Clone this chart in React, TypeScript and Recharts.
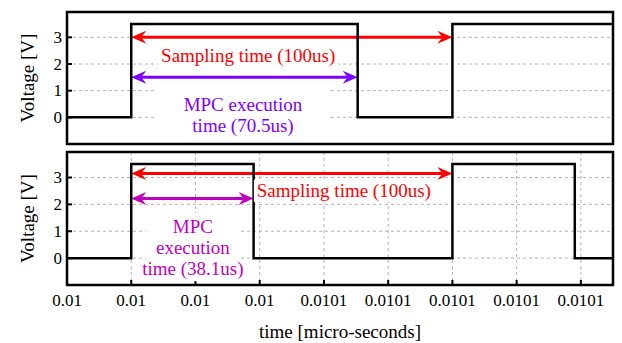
import {
  CartesianGrid,
  ComposedChart,
  Line,
  ReferenceArea,
  ReferenceDot,
  ReferenceLine,
  XAxis,
  YAxis,
} from 'recharts'

// time axis in microseconds, labels as printed by the scope export (seconds)
const timeTicks = [0, 20, 40, 60, 80, 100, 120, 140, 160]
const timeTickLabels = ['0.01', '0.01', '0.01', '0.01', '0.0101', '0.0101', '0.0101', '0.0101', '0.0101']
const voltTicks = [0, 1, 2, 3]

const samplingStart = 20
const samplingPeriod = 100
const execTimeFirst = 70.5
const execTimeSecond = 38.1

// upper trace: MPC with 70.5us execution
const topTime = [0, 20, 90.5, 120, 170]
const topVolt = [0, 3.5, 0, 3.5, 3.5]

// lower trace: MPC with 38.1us execution
const bottomTime = [0, 20, 58.1, 120, 158.1, 170]
const bottomVolt = [0, 3.5, 0, 3.5, 0, 0]

const T_MAX = 170
const V_MIN = -1
const V_MAX = 3.95

const FONT = 'Liberation Serif'
const RED = '#ff0000'
const VIOLET = '#7f00ff'
const MAGENTA = '#c000c0'

const toRows = (t: number[], v: number[]) => t.map((time, i) => ({ t: time, v: v[i] }))

function arrowShape(color: string) {
  return (props: any) => {
    const { x1, y1, x2, y2 } = props
    const len = 15
    const half = 6.5
    const notch = 10
    const dir = x2 > x1 ? 1 : -1
    const head = (tx: number, ty: number, d: number) =>
      `M${tx},${ty} L${tx + d * len},${ty - half} L${tx + d * notch},${ty} L${tx + d * len},${ty + half} Z`
    return (
      <g>
        <line x1={x1 + dir * notch} y1={y1} x2={x2 - dir * notch} y2={y2} stroke={color} strokeWidth={3} />
        <path d={head(x1, y1, dir)} fill={color} />
        <path d={head(x2, y2, -dir)} fill={color} />
      </g>
    )
  }
}

interface Note {
  lines: string[]
  color: string
  w: number
  h: number
  boxDy?: number
}

function noteShape({ lines, color, w, h, boxDy = 0 }: Note) {
  return (props: any) => {
    const { cx, cy } = props
    const lineH = 21
    const first = cy - ((lines.length - 1) * lineH) / 2
    return (
      <g>
        <rect x={cx - w / 2} y={cy - h / 2 + boxDy} width={w} height={h} fill="#fff" />
        {lines.map((s, i) => (
          <text
            key={i}
            x={cx}
            y={first + i * lineH}
            textAnchor="middle"
            dominantBaseline="central"
            fill={color}
            style={{ fontSize: 19, fontFamily: FONT }}
          >
            {s}
          </text>
        ))}
      </g>
    )
  }
}

const tickLineStyle = { stroke: '#000', strokeWidth: 2 }

// tick y arrives at the inner end of the (inward) tick mark
function TimeTick(props: any) {
  const { x, y, payload, index } = props
  return (
    <text x={x} y={y + 26} textAnchor="middle" fill="#000" style={{ fontSize: 17, fontFamily: FONT }}>
      {timeTickLabels[index] ?? payload.value}
    </text>
  )
}

function VoltTick(props: any) {
  const { x, y, payload } = props
  return (
    <text x={x} y={y} textAnchor="end" dominantBaseline="central" fill="#000" style={{ fontSize: 17, fontFamily: FONT }}>
      {payload.value}
    </text>
  )
}

function voltageLabel(props: any) {
  const vb = props.viewBox
  const cy = vb.y + vb.height / 2
  return (
    <text
      x={27}
      y={cy}
      transform={`rotate(-90 27 ${cy})`}
      textAnchor="middle"
      dominantBaseline="central"
      fill="#000"
      style={{ fontSize: 19, fontFamily: FONT }}
    >
      Voltage [V]
    </text>
  )
}

function timeLabel(props: any) {
  const vb = props.viewBox
  return (
    <text
      x={vb.x + vb.width / 2}
      y={vb.y + vb.height - 5}
      textAnchor="middle"
      fill="#000"
      style={{ fontSize: 19, fontFamily: FONT }}
    >
      time [micro-seconds]
    </text>
  )
}

interface PanelProps {
  rows: { t: number; v: number }[]
  height: number
  margin: { top: number; right: number; bottom: number; left: number }
  showTime: boolean
  children?: React.ReactNode
}

function Panel({ rows, height, margin, showTime, children }: PanelProps) {
  return (
    <ComposedChart width={622} height={height} data={rows} margin={margin}>
      <CartesianGrid
        xAxisId="b"
        yAxisId="l"
        stroke="#b4b4b4"
        strokeDasharray="3 3"
        strokeWidth={1}
      />
      <XAxis
        xAxisId="b"
        dataKey="t"
        type="number"
        domain={[0, T_MAX]}
        ticks={timeTicks}
        allowDataOverflow
        axisLine={false}
        tickLine={tickLineStyle}
        tickSize={-5}
        tickMargin={0}
        height={showTime ? 58 : 0}
        tick={showTime ? <TimeTick /> : false}
        interval={0}
        label={showTime ? timeLabel : undefined}
      />
      <XAxis
        xAxisId="t"
        orientation="top"
        dataKey="t"
        type="number"
        domain={[0, T_MAX]}
        ticks={timeTicks}
        axisLine={false}
        tickLine={tickLineStyle}
        tickSize={-5}
        height={0}
        tick={false}
      />
      <YAxis
        yAxisId="l"
        type="number"
        domain={[V_MIN, V_MAX]}
        ticks={voltTicks}
        allowDataOverflow
        width={67}
        axisLine={false}
        tickLine={tickLineStyle}
        tickSize={-5}
        tickMargin={10}
        tick={<VoltTick />}
        interval={0}
        label={voltageLabel}
      />
      <YAxis
        yAxisId="r"
        orientation="right"
        type="number"
        domain={[V_MIN, V_MAX]}
        ticks={voltTicks}
        width={0}
        axisLine={false}
        tickLine={tickLineStyle}
        tickSize={-5}
        tick={false}
      />
      {children}
      <Line
        xAxisId="b"
        yAxisId="l"
        dataKey="v"
        type="stepAfter"
        stroke="#000"
        strokeWidth={2.5}
        dot={false}
        activeDot={false}
        isAnimationActive={false}
      />
      <ReferenceArea
        xAxisId="b"
        yAxisId="l"
        x1={0}
        x2={T_MAX}
        y1={V_MIN}
        y2={V_MAX}
        fill="none"
        fillOpacity={0}
        stroke="#000"
        strokeWidth={2.5}
      />
    </ComposedChart>
  )
}

export default function App() {
  const sampleEnd = samplingStart + samplingPeriod
  return (
    <div style={{ position: 'absolute', left: 0, top: 0, width: 622, height: 343, background: '#fff' }}>
      <Panel rows={toRows(topTime, topVolt)} height={147} margin={{ top: 12, right: 9, bottom: 3, left: 0 }} showTime={false}>
        <ReferenceDot
          xAxisId="b"
          yAxisId="l"
          x={56.4}
          y={2.33}
          shape={noteShape({ lines: ['Sampling time (100us)'], color: RED, w: 180, h: 24 })}
        />
        <ReferenceDot
          xAxisId="b"
          yAxisId="l"
          x={54.8}
          y={0.08}
          shape={noteShape({ lines: ['MPC execution', 'time (70.5us)'], color: VIOLET, w: 176, h: 50, boxDy: -4 })}
        />
        <ReferenceLine
          xAxisId="b"
          yAxisId="l"
          segment={[{ x: samplingStart, y: 3 }, { x: sampleEnd, y: 3 }]}
          shape={arrowShape(RED)}
        />
        <ReferenceLine
          xAxisId="b"
          yAxisId="l"
          segment={[{ x: samplingStart, y: 1.5 }, { x: samplingStart + execTimeFirst, y: 1.5 }]}
          shape={arrowShape(VIOLET)}
        />
      </Panel>
      <Panel rows={toRows(bottomTime, bottomVolt)} height={196} margin={{ top: 5, right: 9, bottom: 0, left: 0 }} showTime>
        <ReferenceDot
          xAxisId="b"
          yAxisId="l"
          x={86.2}
          y={2.51}
          shape={noteShape({ lines: ['Sampling time (100us)'], color: RED, w: 180, h: 22 })}
        />
        <ReferenceDot
          xAxisId="b"
          yAxisId="l"
          x={39.2}
          y={0.41}
          shape={noteShape({ lines: ['MPC', 'execution', 'time (38.1us)'], color: MAGENTA, w: 94, h: 68 })}
        />
        <ReferenceLine
          xAxisId="b"
          yAxisId="l"
          segment={[{ x: samplingStart, y: 3.15 }, { x: sampleEnd, y: 3.15 }]}
          shape={arrowShape(RED)}
        />
        <ReferenceLine
          xAxisId="b"
          yAxisId="l"
          segment={[{ x: samplingStart, y: 2.22 }, { x: samplingStart + execTimeSecond, y: 2.22 }]}
          shape={arrowShape(MAGENTA)}
        />
      </Panel>
    </div>
  )
}
